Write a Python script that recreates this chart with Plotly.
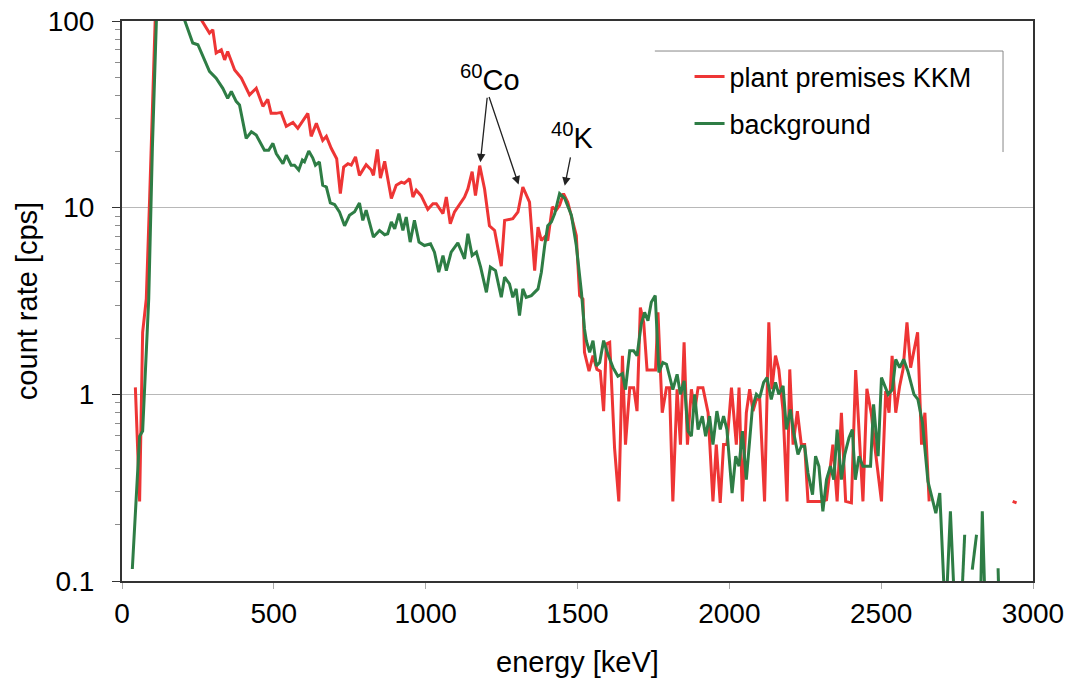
import math
import plotly.graph_objects as go

# ---- data ----
red_energy = [44, 58, 68, 80, 91, 100, 110, 130, 160, 200, 235, 261, 288, 299, 310, 327, 338, 348, 371, 393,
              420, 442, 464, 480, 491, 508, 524, 541, 563, 579, 612, 623, 640, 661, 673, 689, 707, 719, 730, 744,
              755, 769, 782, 804, 821, 828, 841, 851, 865, 887, 903, 920, 930, 947, 958, 969, 985, 1007, 1024, 1035,
              1057, 1068, 1081, 1095, 1112, 1128, 1139, 1153, 1164, 1178, 1194, 1210, 1227, 1249, 1260, 1287, 1304,
              1320, 1342, 1359, 1370, 1381, 1392, 1402, 1417, 1430, 1441, 1454, 1468, 1480, 1496, 1507, 1518, 1523,
              1538, 1551, 1564, 1575, 1586, 1595, 1606, 1622, 1636, 1648, 1658, 1672, 1685, 1696, 1707, 1718, 1729,
              1757, 1765, 1779, 1793, 1803, 1814, 1828, 1839, 1851, 1862, 1875, 1886, 1897, 1913, 1930, 1946, 1957,
              1970, 1981, 1992, 2007, 2023, 2032, 2043, 2056, 2067, 2078, 2089, 2100, 2116, 2130, 2140, 2152, 2163,
              2177, 2190, 2199, 2210, 2224, 2237, 2248, 2259, 2275, 2300, 2320, 2341, 2355, 2369, 2383, 2402, 2416,
              2429, 2440, 2453, 2468, 2479, 2501, 2515, 2526, 2536, 2548, 2561, 2572, 2585, 2597, 2620, 2633, 2644,
              2658, 2680, 2933, 2946]
red_rate = [1.09, 0.267, 2.15, 3.24, 11.2, 38.5, 110, 180, 250, 200, 140, 101.6, 86.1, 89.8, 67.3, 70.1, 61.9, 68.7, 54.7, 49.4,
            40.2, 43.6, 34.9, 38.1, 32.0, 32.0, 32.4, 27.3, 28.6, 26.6, 32.0, 24.1, 28.3, 22.9, 24.1, 20.8, 18.3, 11.9, 16.5, 17.2,
            16.9, 18.7, 14.9, 17.0, 15.9, 14.9, 20.5, 14.4, 17.7, 11.2, 13.2, 13.7, 13.5, 14.3, 11.4, 12.4, 11.6, 9.8, 10.5, 10.5,
            9.3, 11.4, 8.2, 9.5, 10.5, 11.4, 12.6, 15.6, 11.6, 16.8, 12.6, 8.0, 7.55, 4.86, 8.55, 8.73, 9.5,
            12.9, 10.7, 4.6, 7.87, 6.67, 6.96, 6.67, 10.1, 9.7, 10.3, 11.9, 10.7, 9.1, 7.1, 3.38, 3.24, 1.68,
            1.33, 1.61, 1.36, 1.33, 0.813, 1.86, 1.90, 0.517, 0.267, 1.61, 0.538, 1.086, 1.086, 0.813, 2.92, 2.43, 1.35,
            1.35, 2.75, 0.797, 1.086, 1.086, 0.267, 1.064, 0.538, 1.90, 0.538, 1.064, 0.813, 1.086, 1.086, 0.797, 0.267, 0.538,
            0.262, 0.538, 0.538, 1.086, 0.538, 1.086, 0.267, 0.797, 1.064, 0.813, 0.94, 0.94, 0.267, 2.43, 1.064, 1.61, 1.36,
            0.813, 0.267, 1.36, 0.538, 0.813, 0.538, 0.538, 0.267, 0.267, 0.267, 0.272, 0.538, 0.267, 0.797, 0.267, 0.262, 1.35,
            0.527, 0.267, 1.07, 0.78, 0.527, 0.267, 1.04, 0.797, 1.61, 0.797, 1.11, 1.36, 2.43, 1.39, 2.15, 0.538, 0.797,
            0.267, None, 0.267, 0.262]

green_energy = [34, 58, 68, 88, 100, 114, 140, 170, 206, 233, 250, 266, 288, 310, 332, 348, 360, 376, 387, 409,
                426, 442, 469, 483, 497, 508, 530, 541, 557, 568, 582, 594, 601, 615, 628, 637, 650, 661, 673, 686,
                700, 716, 733, 749, 766, 782, 793, 804, 828, 848, 865, 875, 887, 898, 912, 925, 936, 949, 963, 978,
                996, 1016, 1029, 1043, 1057, 1068, 1084, 1106, 1128, 1139, 1153, 1167, 1181, 1200, 1213, 1230, 1249,
                1260, 1276, 1287, 1298, 1309, 1320, 1331, 1348, 1370, 1381, 1392, 1402, 1414, 1425, 1441, 1458, 1480,
                1496, 1513, 1523, 1529, 1540, 1551, 1562, 1573, 1586, 1600, 1617, 1633, 1648, 1658, 1672, 1685, 1696,
                1710, 1721, 1732, 1743, 1756, 1768, 1781, 1793, 1803, 1814, 1828, 1839, 1851, 1864, 1875, 1886, 1897,
                1911, 1922, 1935, 1946, 1959, 1970, 1981, 1992, 2009, 2021, 2032, 2043, 2056, 2076, 2089, 2100, 2113,
                2124, 2138, 2152, 2163, 2177, 2188, 2201, 2212, 2226, 2237, 2248, 2259, 2274, 2284, 2295, 2308, 2320,
                2333, 2344, 2355, 2369, 2380, 2394, 2405, 2415, 2427, 2440, 2465, 2475, 2490, 2501, 2523, 2537, 2548,
                2561, 2574, 2588, 2608, 2621, 2636, 2654, 2680, 2693, 2712, 2728, 2744, 2752, 2762, 2775, 2788, 2800,
                2814, 2820, 2826, 2833, 2844, 2860, 2885, 2890]
green_rate = [0.116, 0.597, 0.635, 3.24, 20.8, 110, 180, 160, 101.2, 76.2, 74.6, 64.6, 53.7, 49.4, 43.6, 38.5, 41.9, 37.1, 35.5, 23.5,
              25.5, 24.5, 20.3, 20.3, 22.1, 19.5, 17.2, 19.1, 16.9, 16.9, 15.9, 18.0, 17.6, 20.1, 18.5, 16.9, 17.6, 13.2, 12.9, 10.6,
              10.4, 9.5, 8.0, 9.1, 9.5, 10.6, 8.55, 9.7, 6.96, 7.55, 7.16, 7.25, 8.38, 7.71, 9.3, 7.55, 8.91, 6.54, 8.55, 6.54,
              6.27, 6.4, 5.78, 4.51, 5.54, 4.6, 5.78, 6.48, 5.32, 7.25, 5.54, 5.78, 4.8, 3.52, 4.8, 4.6, 3.31,
              4.24, 3.9, 3.31, 3.67, 2.64, 3.67, 3.31, 3.38, 3.67, 4.51, 6.27, 8.0, 8.38, 9.3, 11.9, 11.2, 9.1,
              6.27, 3.52, 2.24, 1.94, 1.68, 1.94, 1.42, 1.48, 1.94, 1.64, 1.39, 1.25, 1.29, 1.06, 1.71, 1.71, 1.61,
              2.38, 2.75, 2.48, 3.11, 3.38, 1.31, 1.48, 1.45, 1.25, 1.06, 1.28, 1.0, 1.18, 0.635, 0.597, 1.0, 0.648,
              0.764, 0.597, 0.764, 0.538, 0.813, 0.648, 0.764, 0.648, 0.296, 0.466, 0.412, 0.635, 0.349, 0.848, 1.0, 0.96, 1.16,
              1.23, 0.94, 1.16, 1.0, 1.11, 0.648, 0.83, 0.622, 0.476, 0.527, 0.527, 0.379, 0.29, 0.466, 0.412, 0.236, 0.349,
              0.412, 0.349, 0.648, 0.349, 0.476, 0.585, 0.648, 0.349, 0.466, 0.412, 0.412, 0.884, 0.466, 1.23, 1.0, 1.06, 1.54,
              1.39, 1.54, 1.33, 1.0, 0.94, 0.705, 0.342, 0.231, 0.296, 0.06, 0.236, 0.06, None, 0.06, 0.177, None, 0.115,
              0.177, None, 0.06, 0.236, 0.06, None, 0.117, 0.06]

x_ticks = [0, 500, 1000, 1500, 2000, 2500, 3000]
y_ticks = [0.1, 1, 10, 100]
y_tick_text = ["0.1", "1", "10", "100"]

RED = "#EE3535"
GREEN = "#2E7D45"
FONT = "Liberation Sans, Arial, sans-serif"

fig = go.Figure()
fig.add_trace(go.Scatter(x=red_energy, y=red_rate, mode="lines", name="plant premises KKM",
                         line=dict(color=RED, width=3), connectgaps=False, legendgroup="a"))
fig.add_trace(go.Scatter(x=green_energy, y=green_rate, mode="lines", name="background",
                         line=dict(color=GREEN, width=3), connectgaps=False, legendgroup="b"))

fig.update_layout(
    width=1069, height=681,
    margin=dict(l=122, r=36, t=21, b=100),
    paper_bgcolor="white", plot_bgcolor="white",
    font=dict(family=FONT, size=28, color="black"),
    showlegend=True,
    legend=dict(x=0.623, y=0.944, xanchor="left", yanchor="top", bgcolor="rgba(0,0,0,0)",
                font=dict(size=27), itemwidth=30, tracegroupgap=9),
)
fig.update_xaxes(range=[0, 3000], tickvals=x_ticks, ticks="outside", ticklen=6, tickcolor="#aaaaaa",
                 showline=True, linecolor="#333333", linewidth=2, mirror=True, showgrid=False, zeroline=False,
                 automargin=False,
                 tickfont=dict(size=28), title=dict(text="energy [keV]", font=dict(size=29), standoff=24))
fig.update_yaxes(type="log", range=[-1, 2], tickmode="linear", tick0=0, dtick=1, ticks="outside", ticklen=8,
                 tickcolor="#333333", tickwidth=1, showline=True, linecolor="#333333", linewidth=2, mirror=True,
                 showgrid=True, gridcolor="#b8b8b8", gridwidth=1, automargin=False, ticklabelstandoff=12,
                 minor=dict(dtick="D1", ticks="outside", ticklen=5, tickwidth=1,
                            tickcolor="#8c8c8c", showgrid=False),
                 tickfont=dict(size=28), title=dict(text="count rate [cps]", font=dict(size=29), standoff=2))

# legend partial frame (top and right edges)
fig.add_shape(type="line", xref="paper", yref="paper", x0=0.5849, x1=0.9671, y0=0.9464, y1=0.9464,
              line=dict(color="#888888", width=1))
fig.add_shape(type="line", xref="paper", yref="paper", x0=0.9671, x1=0.9671, y0=0.9464, y1=0.766,
              line=dict(color="#888888", width=1))

arrow = dict(showarrow=True, text="", arrowhead=2, arrowsize=1.3, arrowwidth=1.3, arrowcolor="#222222",
             xref="x", yref="y", standoff=0)
fig.add_annotation(x=1180, y=math.log10(17.5), ax=7, ay=-66, **arrow)
fig.add_annotation(x=1306, y=math.log10(13.3), ax=-30, ay=-89, **arrow)
fig.add_annotation(x=1458, y=math.log10(13.1), ax=6, ay=-30, **arrow)
fig.add_annotation(x=1212, y=1.693, text="<sup>60</sup>Co", showarrow=False, xref="x", yref="y",
                   font=dict(size=29))
fig.add_annotation(x=1485, y=1.383, text="<sup>40</sup>K", showarrow=False, xref="x", yref="y",
                   font=dict(size=29))

fig.write_html("out.html")
